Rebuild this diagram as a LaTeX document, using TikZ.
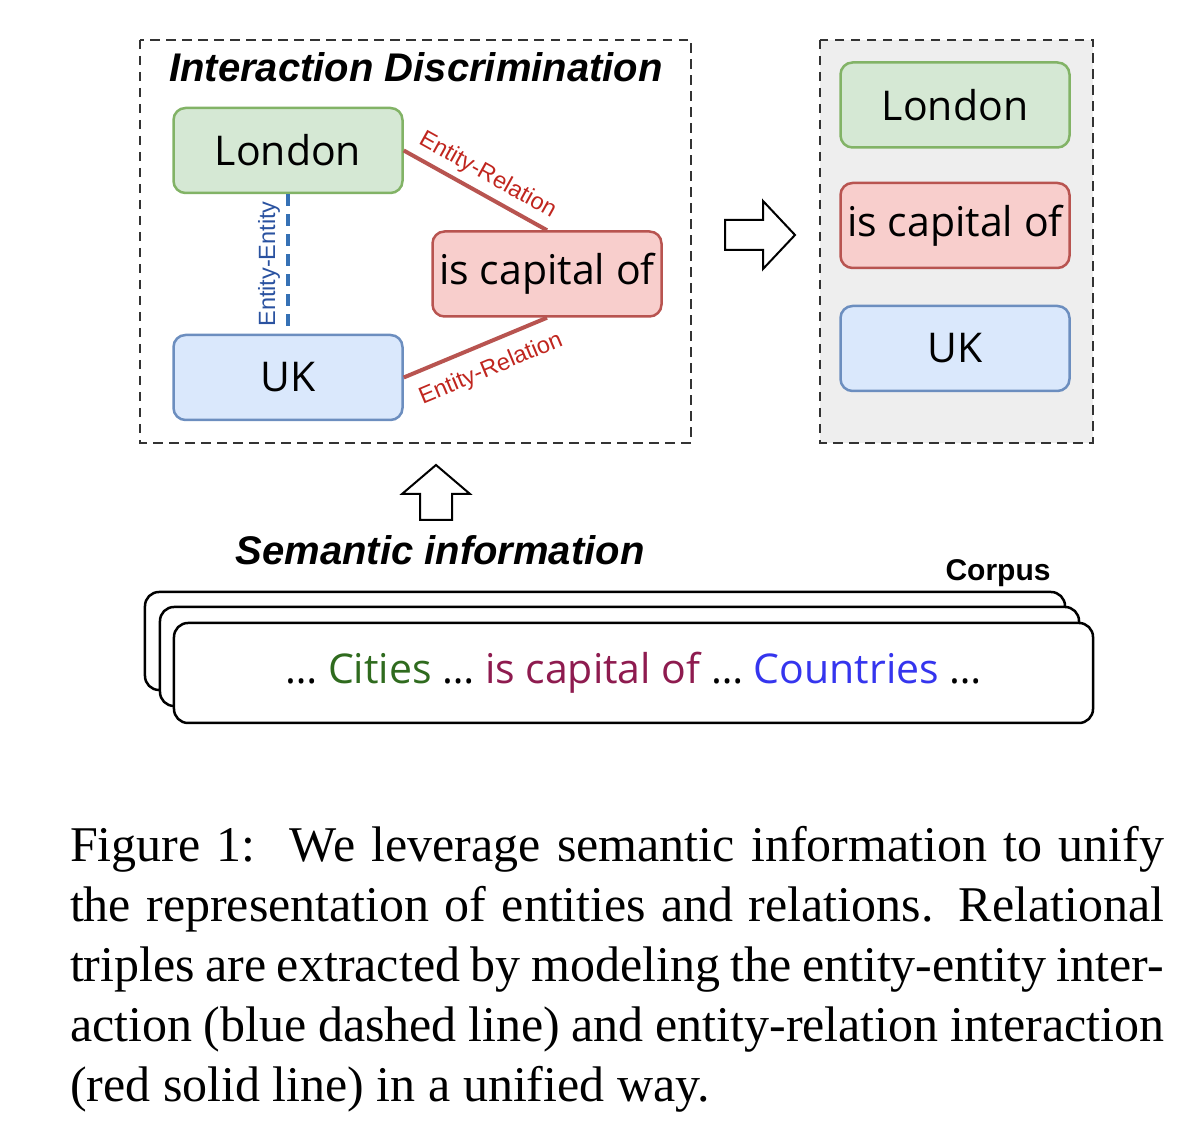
\documentclass[tikz,border=0pt]{standalone}
\usepackage{fontspec}
\setmainfont{Liberation Serif}
\setsansfont{Liberation Sans}
\newfontfamily\handfont{Open Sans}
\usepackage{tikz}
\usetikzlibrary{arrows}

\definecolor{entgreenfill}{HTML}{D5E8D4}
\definecolor{entgreendraw}{HTML}{82B366}
\definecolor{entbluefill}{HTML}{DAE8FC}
\definecolor{entbluedraw}{HTML}{6C8EBF}
\definecolor{relfill}{HTML}{F8CECC}
\definecolor{reldraw}{HTML}{B85450}
\definecolor{rellabel}{HTML}{C0261F}
\definecolor{eeline}{HTML}{3571B5}
\definecolor{eelabel}{HTML}{2A52A0}
\definecolor{framegray}{HTML}{333333}
\definecolor{panelgray}{HTML}{EEEEEE}
\definecolor{citygreen}{HTML}{2F6B1E}
\definecolor{capmaroon}{HTML}{8E1B4F}
\definecolor{countryblue}{HTML}{3535EE}

\begin{document}
\begin{tikzpicture}[x=0.2pt,y=-0.2pt,
  word/.style={draw,rounded corners=2.4pt,line width=0.5pt,minimum width=45.8pt,
    minimum height=17pt,inner sep=0pt,font=\handfont\fontsize{8.2pt}{10pt}\selectfont},
  city/.style={word,fill=entgreenfill,draw=entgreendraw},
  country/.style={word,fill=entbluefill,draw=entbluedraw},
  relation/.style={word,fill=relfill,draw=reldraw},
  frame/.style={draw=framegray,line width=0.45pt,dash pattern=on 1.9pt off 1.3pt},
  heading/.style={font=\sffamily\bfseries\itshape\fontsize{8pt}{9.6pt}\selectfont},
  relline/.style={draw=reldraw,line width=0.8pt},
  entline/.style={draw=eeline,line width=0.8pt,dash pattern=on 2.4pt off 1.6pt},
  edgelabel/.style={font=\sffamily\fontsize{4.7pt}{5.6pt}\selectfont,inner sep=1.2pt},
  hollow/.style={draw,line width=0.4pt,fill=white,line join=miter},
  sheet/.style={draw,fill=white,line width=0.5pt,rounded corners=2.8pt,inner sep=0pt}]
  \useasboundingbox (0,0) rectangle (1184,1128);

  \draw[frame] (140,40) rectangle (691,443);
  \node[heading] (idtitle) at (416,67) {Interaction Discrimination};
  \node[city] (London) at (288,150.5) {London};
  \node[country] (UK) at (288,377.5) {UK};
  \node[relation] (capital) at (547,274) {is capital of};
  \path (London.east) edge[relline] node[sloped,above,pos=0.52,edgelabel,text=rellabel] {Entity-Relation} (capital.north)
        (UK.east) edge[relline] node[sloped,below=1.4pt,pos=0.54,edgelabel,text=rellabel] {Entity-Relation} (capital.south)
        (London.south) edge[entline] node[midway,rotate=90,anchor=south,edgelabel,text=eelabel] {Entity-Entity} (UK.north);

  \draw[hollow] (725,220) -- (763,220) -- (763,201) -- (795,235) -- (763,269) -- (763,250) -- (725,250) -- cycle;

  \draw[frame,fill=panelgray] (820,40) rectangle (1093,443);
  \node[city] (London2) at (955,105) {London};
  \node[relation] (capital2) at (955,225.5) {is capital of};
  \node[country] (UK2) at (955,348.5) {UK};

  \draw[hollow] (420,520) -- (452,520) -- (452,494) -- (470,494) -- (436,465) -- (402,494) -- (420,494) -- cycle;
  \node[heading] (seminfo) at (440,550) {Semantic information};

  \node[font=\sffamily\bfseries\fontsize{6pt}{7pt}\selectfont] (corpus) at (998,573) {Corpus};
  \node[sheet,minimum width=184pt,minimum height=19.6pt] (sheetback) at (605,641) {};
  \node[sheet,minimum width=183.8pt,minimum height=19.8pt] (sheetmid) at (619.5,656.5) {};
  \node[sheet,minimum width=183.8pt,minimum height=20pt,font=\handfont\fontsize{8.2pt}{10pt}\selectfont] (sheetfront) at (633.5,673)
    {… \textcolor{citygreen}{Cities} … \textcolor{capmaroon}{is capital of} … \textcolor{countryblue}{Countries} …};

  \node[anchor=north west,inner sep=0pt,text width=218.8pt,align=justify,
    font=\fontsize{10pt}{12pt}\selectfont] (caption) at (69,825)
    {Figure 1:\hspace{0.2em} We leverage semantic information to unify\linebreak
     the representation of entities and relations. Relational\linebreak
     triples are extracted by modeling the entity-entity inter-\linebreak
     action (blue dashed line) and entity-relation interaction\linebreak
     (red solid line) in a unified way.};
\end{tikzpicture}
\end{document}
